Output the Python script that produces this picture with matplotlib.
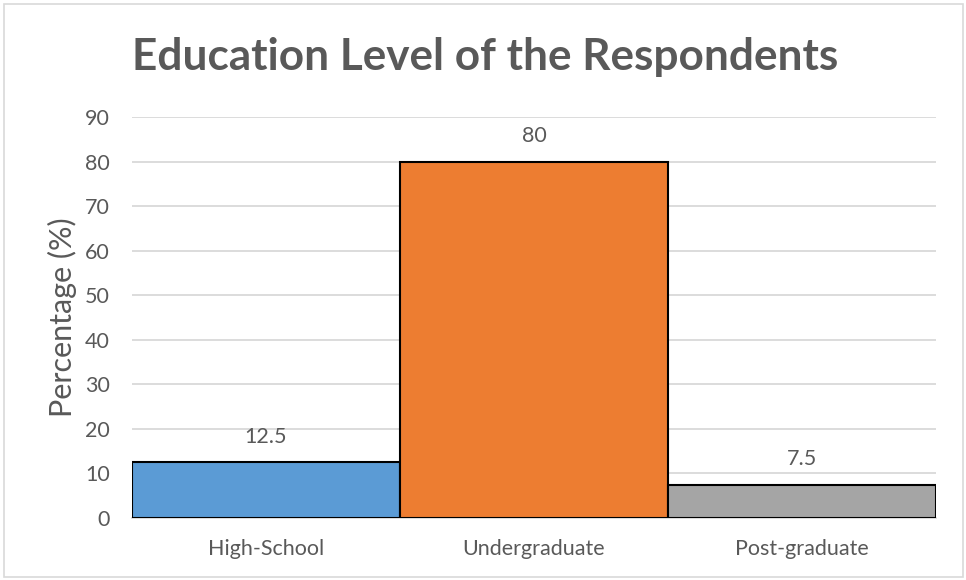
import matplotlib.pyplot as plt
from matplotlib.patches import Rectangle

categories = ["High-School", "Undergraduate", "Post-graduate"]
values = [12.5, 80, 7.5]
colors = ["#5B9BD5", "#ED7D31", "#A5A5A5"]
yticks = [0, 10, 20, 30, 40, 50, 60, 70, 80, 90]

plt.rcParams['font.family'] = ['Lato', 'DejaVu Sans']
text_color = "#595959"
grid_color = "#D9D9D9"

W, H = 966, 580
fig = plt.figure(figsize=(W / 100, H / 100), dpi=100)
fig.patch.set_facecolor("white")

# outer chart border
fig.add_artist(Rectangle((4 / W, 3 / H), 959 / W, 573 / H, transform=fig.transFigure,
                         fill=False, edgecolor=grid_color, linewidth=1.2))

left, right, bottom, top = 132, 936, 518, 117
ax = fig.add_axes([left / W, 1 - bottom / H, (right - left) / W, (bottom - top) / H])

x = range(len(categories))
bars = ax.bar(x, values, width=1.0, color=colors, edgecolor="black", linewidth=1.5, zorder=3)

ax.set_xlim(-0.5, len(categories) - 0.5)
ax.set_ylim(0, 90)
ax.set_yticks(yticks)
ax.set_xticks(list(x))
ax.set_xticklabels(categories)
ax.yaxis.grid(True, color=grid_color, linewidth=1.3, zorder=0)
ax.set_axisbelow(True)
for side in ["top", "right", "left"]:
    ax.spines[side].set_visible(False)
ax.spines["bottom"].set_color(grid_color)
ax.spines["bottom"].set_linewidth(1.3)
ax.tick_params(axis="both", length=0, colors=text_color, labelsize=15.5)
ax.tick_params(axis="y", pad=16)
ax.tick_params(axis="x", pad=15)

for b, v in zip(bars, values):
    ax.annotate(f"{v:g}", (b.get_x() + b.get_width() / 2, v), xytext=(0, 11),
                textcoords="offset points", ha="center", va="bottom",
                fontsize=15.5, color=text_color)

ax.set_ylabel("Percentage (%)", fontsize=22, color=text_color, labelpad=6)

fig.text(485 / W, 1 - 57 / H, "Education Level of the Respondents", ha="center", va="center",
         fontsize=31.8, fontweight="bold", color=text_color)

fig.savefig("out.png", dpi=100)
